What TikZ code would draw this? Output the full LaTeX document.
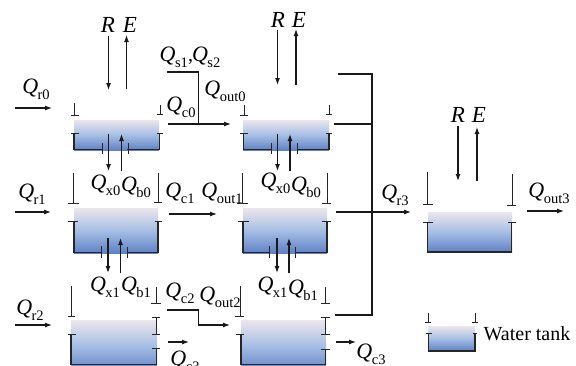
\documentclass[tikz,border=0pt]{standalone}
\usepackage{fontspec}
\setmainfont{Liberation Serif}
\usetikzlibrary{arrows.meta}
\definecolor{wtop}{RGB}{236,230,236}
\definecolor{wmid}{RGB}{165,190,228}
\definecolor{wbot}{RGB}{96,130,196}
\newcommand{\Qsub}[1]{{\fontsize{22}{22}\selectfont\textit{Q}}\kern-0.5pt\raisebox{-0.3em}{\fontsize{14.5}{14.5}\selectfont #1}}
\tikzset{
  pipe/.style={line width=1.15pt,black!90},
  wall/.style={line width=1.1pt,black!85},
  flow/.style={pipe,-{Latex[length=7pt,width=5pt]}},
  water/.style={draw=none,top color=wtop,bottom color=wbot,middle color=wmid},
  lab/.style={inner sep=0pt,font=\fontsize{20}{20}\selectfont},
  bigl/.style={inner sep=0pt,font=\fontsize{23}{23}\selectfont},
  rim/.style={line width=1pt,black!85}
}
\newcommand{\stub}[5]{\draw[rim] (#1,#2) -- (#1,#3) (#4,#3) -- (#5,#3);}
\begin{document}
\begin{tikzpicture}[x=1pt,y=-1pt]
\useasboundingbox (0,0) rectangle (576,365);
\clip (0,0) rectangle (576,365);
% water fills
\fill[water] (74,120) rectangle (159,150);
\fill[water] (243,120) rectangle (329,150);
\fill[water] (74,208) rectangle (158,253);
\fill[water] (243,208) rectangle (327,253);
\fill[water] (71,320) rectangle (157,372);
\fill[water] (241,320) rectangle (326,372);
\fill[water] (428,212) rectangle (512,252);
\fill[water] (428,326) rectangle (475,351);
% tank A
\draw[wall] (74,133) -- (74,149.5) -- (102,149.5) (127,149.5) -- (159.5,149.5) -- (159.5,133);
\draw[rim] (71,133)--(79,133) (157,133)--(163,133) (102,143)--(102,154) (128,143)--(128,154);
\stub{74}{103}{115}{71}{79}\stub{160}{105}{114}{157}{163}
% tank B
\draw[wall] (243.5,133) -- (243.5,149.5) -- (271,149.5) (297,149.5) -- (329,149.5) -- (329,133);
\draw[rim] (240,133)--(248,133) (326,133)--(332,133) (271,143)--(271,154) (297,143)--(297,154);
\stub{244}{105}{115}{240}{248}\stub{329}{105}{114}{326}{332}
% tank C
\draw[wall] (74,221) -- (74,252.5) -- (101,252.5) (127,252.5) -- (158,252.5) -- (158,221);
\draw[rim] (68,221)--(78,221) (155,221)--(162,221) (101,246)--(101,258) (127,247)--(127,258);
\stub{73.5}{173}{203}{68}{79}\stub{158}{173}{202}{154}{162}
% tank D
\draw[wall] (243,221) -- (243,252.5) -- (269,252.5) (295,252.5) -- (327,252.5) -- (327,221);
\draw[rim] (238,221)--(249,221) (322,221)--(331,221) (269,246)--(269,258) (295,247)--(295,258);
\stub{242.5}{173}{203}{237}{248}\stub{327}{173}{203}{322}{331}
% tank E
\draw[wall] (71,334) -- (71,364.5) -- (156.5,364.5) -- (156.5,348);
\draw[rim] (68,334)--(76,334) (152,348)--(160,348);
\stub{71}{286}{316}{68}{75}\stub{156}{287}{303}{151}{161}
\draw[rim] (156,317)--(156,334) (152,317)--(160,317) (152,334)--(160,334);
% tank F
\draw[wall] (241,334) -- (241,364.5) -- (325.5,364.5) -- (325.5,349);
\draw[rim] (236,334)--(244,334) (321,349)--(330,349);
\stub{240}{286}{316}{235}{244}\stub{325}{287}{303}{321}{330}
\draw[rim] (325.5,317)--(325.5,334) (321,317)--(330,317) (321,334)--(330,334);
% tank G
\draw[wall] (427.5,222) -- (427.5,252) -- (511.5,252) -- (511.5,222);
\draw[rim] (423,222)--(433,222) (508,222)--(516,222);
\stub{427}{172}{204}{423}{433}\stub{512}{174}{205}{507}{516}
% legend tank
\draw[wall] (428.5,333) -- (428.5,351) -- (475,351) -- (475,333);
\draw[rim] (426,333)--(432,333) (473,333)--(477,333);
\stub{428}{313}{322}{425}{431}\stub{475}{313}{322}{472}{478}
% R / E flows
\draw[flow] (108.5,36) -- (108.5,90);
\draw[flow] (126.5,89) -- (126.5,35);
\draw[flow] (277.5,30) -- (277.5,85);
\draw[flow] (296,85) -- (296,29);
\draw[flow] (458,126) -- (458,181);
\draw[flow] (477,181) -- (477,127);
% exchange flows
\draw[flow] (108.5,134) -- (108.5,171);
\draw[flow] (121.5,171) -- (121.5,134);
\draw[flow] (277.5,134) -- (277.5,171);
\draw[flow] (290,171) -- (290,134);
\draw[flow] (108,238) -- (108,273);
\draw[flow] (120.5,273) -- (120.5,238);
\draw[flow] (277,238) -- (277,273);
\draw[flow] (289,273) -- (289,238);
% horizontal flows
\draw[flow] (15,108) -- (52,108);
\draw[flow] (15,212) -- (51,212);
\draw[flow] (15,325) -- (52,325);
\draw[flow] (168,124) -- (231,124);
\draw[flow] (169,214) -- (217,214);
\draw[flow] (336,212) -- (411,212);
\draw[flow] (527,211) -- (564,211);
\draw[flow] (168,342) -- (189,342);
\draw[flow] (336,342) -- (356,342);
\draw[pipe] (167,72) -- (198.5,72) -- (198.5,124);
\draw[flow] (167,310) -- (198.5,310) -- (198.5,325) -- (230,325);
\draw[pipe] (338,74) -- (372,74) -- (372,315) -- (335,315);
\draw[pipe] (334,124) -- (372,124);
% labels
\node[bigl] (r1) at (108,25) {\textit{R}};
\node[bigl] (e1) at (130,25) {\textit{E}};
\node[bigl] (r2) at (278,20) {\textit{R}};
\node[bigl] (e2) at (299,20) {\textit{E}};
\node[bigl] (r3) at (458,115) {\textit{R}};
\node[bigl] (e3) at (479,115) {\textit{E}};
\node[lab] (qr0) at (36,89) {\Qsub{r0}};
\node[lab] (qr1) at (32,194) {\Qsub{r1}};
\node[lab] (qr2) at (30,310) {\Qsub{r2}};
\node[lab] (qr3) at (395,195) {\Qsub{r3}};
\node[lab] (qs) at (190,57) {\Qsub{s1},\kern-1pt\Qsub{s2}};
\node[lab] (qc0) at (181,107) {\Qsub{c0}};
\node[lab] (qc1) at (180,193) {\Qsub{c1}};
\node[lab] (qc2) at (180,293) {\Qsub{c2}};
\node[lab] (qc3a) at (185,361) {\Qsub{c3}};
\node[lab] (qc3b) at (371,354) {\Qsub{c3}};
\node[lab] (qo0) at (225,91) {\Qsub{out0}};
\node[lab] (qo1) at (222,193) {\Qsub{out1}};
\node[lab] (qo2) at (220,297) {\Qsub{out2}};
\node[lab] (qo3) at (549,193) {\Qsub{out3}};
\node[lab] (qxa) at (105.5,185) {\Qsub{x0}};
\node[lab] (qba) at (136,187) {\Qsub{b0}};
\node[lab] (qxb) at (275.5,183) {\Qsub{x0}};
\node[lab] (qbb) at (306,187) {\Qsub{b0}};
\node[lab] (qxc) at (105,287) {\Qsub{x1}};
\node[lab] (qbc) at (136,287) {\Qsub{b1}};
\node[lab] (qxd) at (272.5,287) {\Qsub{x1}};
\node[lab] (qbd) at (303,290) {\Qsub{b1}};
\node[lab] (wt) at (527,334) {Water tank};
\end{tikzpicture}
\end{document}
